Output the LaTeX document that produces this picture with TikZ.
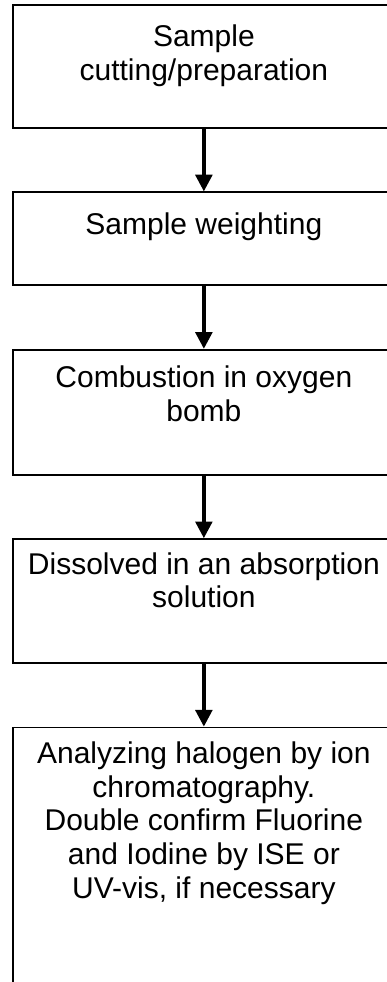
\documentclass[tikz,border=0pt]{standalone}
\usepackage{fontspec}
\setmainfont{Liberation Sans}
\usetikzlibrary{arrows.meta,positioning}

\begin{document}
\begin{tikzpicture}[
    stage/.style={draw=black,line width=1.3pt,minimum width=286.5pt,inner sep=0pt},
    stagetext/.style={align=center,inner sep=0pt,font=\fontsize{22.5}{25.3}\selectfont},
    flow/.style={-{Triangle[width=12.5pt,length=12.5pt]},line width=2.6pt},
    node distance=47pt
  ]
  \useasboundingbox (0,0) rectangle (289.5pt,-736.5pt);
  % boxes, top to bottom
  \node[stage,minimum height=92.25pt,anchor=north west] (cut) at (9pt,-3pt) {};
  \node[stage,minimum height=69.75pt,below=of cut] (weigh) {};
  \node[stage,minimum height=93.75pt,below=of weigh] (burn) {};
  \node[stage,minimum height=93pt,below=of burn] (absorb) {};
  \node[stage,minimum height=225pt,below=of absorb] (analyse) {};
  % texts sit near the top of each box
  \node[stagetext,below=15.5pt of cut.north] (cuttext) {Sample\\cutting/preparation};
  \node[stagetext,below=15.5pt of weigh.north] (weightext) {Sample weighting};
  \node[stagetext,below=12.5pt of burn.north] (burntext) {Combustion in oxygen\\bomb};
  \node[stagetext,below=10.5pt of absorb.north] (absorbtext) {Dissolved in an absorption\\solution};
  \node[stagetext,below=11pt of analyse.north] (analysetext) {Analyzing halogen by ion\\chromatography.\\Double confirm Fluorine\\and Iodine by ISE or\\UV-vis, if necessary};
  % arrows
  \draw[flow] (cut) -- (weigh);
  \draw[flow] (weigh) -- (burn);
  \draw[flow] (burn) -- (absorb);
  \draw[flow] (absorb) -- (analyse);
\end{tikzpicture}
\end{document}
